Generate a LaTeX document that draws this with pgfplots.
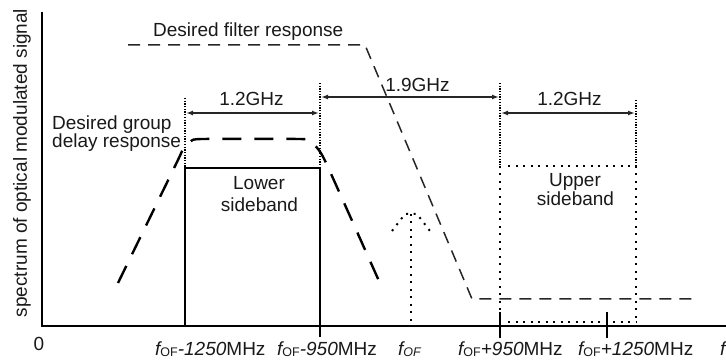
\documentclass[border=0pt]{standalone}
\usepackage{pgfplots}
\pgfplotsset{compat=1.18}
\usepackage{fontspec}
\setmainfont{Liberation Sans}
\usetikzlibrary{arrows.meta}

% shorthand for the f_OF labels
\newcommand{\fof}{{\itshape f}{\fontsize{12.5}{12}\selectfont\raisebox{-0.12em}{OF}}}
\newcommand{\fofi}{{\itshape f}{\fontsize{12.5}{12}\selectfont\itshape\raisebox{-0.12em}{OF}}}

\begin{document}
\begin{tikzpicture}[
    txt/.style={font=\fontsize{19}{22}\selectfont, inner sep=0pt, text=black!90},
    dense/.style={black, line width=2pt, dash pattern=on 1.3pt off 1.4pt},
    sparse/.style={black, line width=2pt, dash pattern=on 2pt off 5.5pt},
    dimarrow/.style={black!85, line width=1.4pt, {Latex[length=7pt,width=5pt]}-{Latex[length=7pt,width=5pt]}},
]
\begin{axis}[
    scale only axis,
    width=726pt, height=362pt,
    xmin=-42, xmax=684,
    ymin=-36, ymax=326,
    hide axis,
    clip=false,
]
% axes
\addplot[black, line width=2.4pt] coordinates {(0,314) (0,0) (684,0)};

% lower sideband
\addplot[black, line width=2pt] coordinates {(143,0) (143,158) (278,158) (278,-11)};
\addplot[dense] coordinates {(143,228) (143,158)};
\addplot[dense] coordinates {(278,243) (278,158)};

% desired group delay response
\addplot[black, line width=2.4pt, dash pattern=on 19pt off 13pt, smooth, tension=0.35]
coordinates {(76,43) (135,164) (141,177) (149,185) (160,187) (258,187) (268,185) (276,177) (285,161) (337,45)};

% desired filter response
\addplot[black!85, line width=1.5pt, dash pattern=on 12pt off 8pt]
coordinates {(86,281) (323,281) (430,27) (656,27)};

% carrier f_OF
\addplot[sparse] coordinates {(369,112) (369,0)};
\addplot[sparse] coordinates {(350,95) (363,112) (375,112) (388,95)};

% upper sideband
\addplot[dense] coordinates {(458,243) (458,160)};
\addplot[sparse] coordinates {(458,160) (458,8)};
\addplot[black, line width=2pt] coordinates {(458,14) (458,-12)};
\addplot[dense] coordinates {(594,226) (594,160)};
\addplot[sparse] coordinates {(594,160) (594,8)};
\addplot[sparse] coordinates {(466,160) (594,160)};
\addplot[sparse] coordinates {(466,4) (594,4)};
\addplot[black, line width=2pt] coordinates {(565,14) (565,-12)};

% bandwidth arrows
\addplot[dimarrow] coordinates {(144,213) (277,213)};
\addplot[dimarrow] coordinates {(279,229) (457,229)};
\addplot[dimarrow] coordinates {(459,213) (593,213)};

% texts
\node[txt, anchor=base west] at (axis cs:111,289) {Desired filter response};
\node[txt, anchor=base west] at (axis cs:10,196) {Desired group};
\node[txt, anchor=base west] at (axis cs:10,178) {delay response};
\node[txt, anchor=base] at (axis cs:209.5,220) {1.2GHz};
\node[txt, anchor=base] at (axis cs:375.5,234) {1.9GHz};
\node[txt, anchor=base] at (axis cs:527.5,220) {1.2GHz};
\node[txt, anchor=base] at (axis cs:217,136) {Lower};
\node[txt, anchor=base] at (axis cs:217.5,114) {sideband};
\node[txt, anchor=base] at (axis cs:533,139) {Upper};
\node[txt, anchor=base] at (axis cs:533.5,120) {sideband};
\node[txt, anchor=base] at (axis cs:-3,-24) {0};
\node[txt, rotate=90, anchor=center] at (axis cs:-20,163) {spectrum of optical modulated signal};

\node[txt, anchor=base west] at (axis cs:113,-29) {\fof\textit{-1250}MHz};
\node[txt, anchor=base west] at (axis cs:235,-29) {\fof\textit{-950}MHz};
\node[txt, anchor=base west] at (axis cs:356,-29) {\fofi};
\node[txt, anchor=base west] at (axis cs:416,-29) {\fof\textit{+950}MHz};
\node[txt, anchor=base west] at (axis cs:536,-29) {\fof\textit{+1250}MHz};
\node[txt, anchor=base west] at (axis cs:678,-29) {\textit{f}};
\end{axis}
\pgfresetboundingbox
\path[use as bounding box] (current axis.south west) rectangle (current axis.north east);
\end{tikzpicture}
\end{document}
